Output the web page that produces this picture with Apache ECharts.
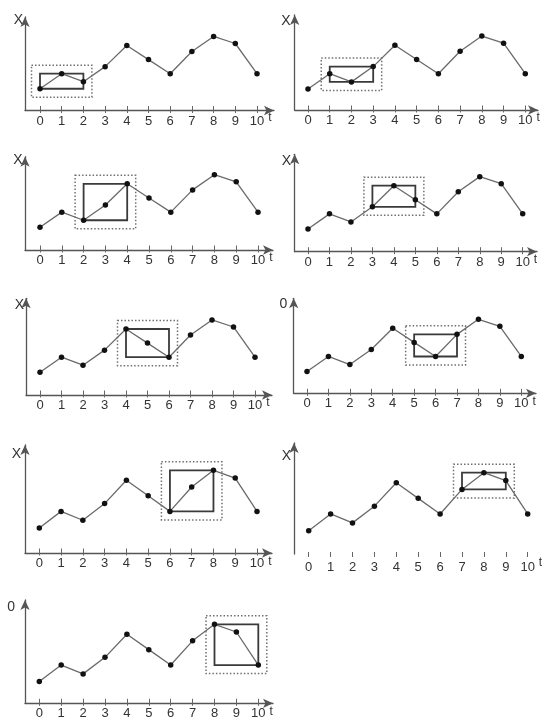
<!DOCTYPE html>
<html>
<head>
<meta charset="utf-8">
<script src="https://cdn.jsdelivr.net/npm/echarts@6/dist/echarts.min.js"></script>
<style>
html,body{margin:0;padding:0;background:#fff;}
#chart{width:544px;height:726px;}
</style>
</head>
<body>
<div id="chart"></div>
<script>
// ---- data ----
const tValues = [0, 1, 2, 3, 4, 5, 6, 7, 8, 9, 10];
const xValues = [2.2, 3.7, 2.9, 4.4, 6.5, 5.1, 3.7, 5.9, 7.4, 6.7, 3.7];
const tickLabels = ['0', '1', '2', '3', '4', '5', '6', '7', '8', '9', '10'];
const windowStarts = [0, 1, 2, 3, 4, 5, 6, 7, 8];
const windowSize = 3;
const yNames = ['X', 'X', 'X', 'X', 'X', '0', 'X', 'X', '0'];
const xName = 't';

// ---- layout (pixels) per panel ----
const layout = [
  {yx: 25,    t0: 40,    t10: 257,   tip: 279, ay: 110.5, top: 12,    s: 10.06, ymin: 0.04,  ndy: 8.5,  ngx: 2,   xl: true,  tdx: -4, tdy: 1},
  {yx: 294.7, t0: 308,   t10: 525.3, tip: 543, ay: 110,   top: 10,    s: 10.19, ymin: 0.14,  ndy: 11,   ngx: 4,   xl: true,  tdx: -4, tdy: 2},
  {yx: 25,    t0: 40,    t10: 258,   tip: 278, ay: 250,   top: 151.7, s: 10.12, ymin: -0.04, ndy: 8.3,  ngx: 2.5, xl: true,  tdx: -4, tdy: 2},
  {yx: 294.7, t0: 308,   t10: 522.7, tip: 542, ay: 251.7, top: 149.3, s: 10.06, ymin: -0.06, ndy: 12,   ngx: 3.5, xl: true,  tdx: -4, tdy: 2},
  {yx: 26,    t0: 40,    t10: 255,   tip: 277, ay: 395,   top: 293.3, s: 10.06, ymin: -0.06, ndy: 11.7, ngx: 2,   xl: true,  tdx: -4, tdy: 2},
  {yx: 293.7, t0: 307,   t10: 521.3, tip: 541, ay: 393.3, top: 293.3, s: 10.06, ymin: 0.04,  ndy: 11,   ngx: 6.5, xl: true,  tdx: -4, tdy: 2},
  {yx: 25,    t0: 39.3,  t10: 257,   tip: 277, ay: 553,   top: 440,   s: 11.1,  ymin: -0.05, ndy: 14,   ngx: 4,   xl: true,  tdx: -3, tdy: 3},
  {yx: 294,   t0: 308.7, t10: 527.7, tip: 542, ay: 554,   top: 438,   s: 11.15, ymin: 0.11,  ndy: 18,   ngx: 3,   xl: false, tdx: 2,  tdy: 3},
  {yx: 25,    t0: 39.3,  t10: 258.3, tip: 278, ay: 703.3, top: 595,   s: 11.02, ymin: 0.23,  ndy: 12,   ngx: 10,  xl: true,  tdx: -4, tdy: 2}
];

const AR = 5; // half arrow length
const axisColor = '#555';
const textColor = '#333';
const font = 'Liberation Sans, Arial, sans-serif';

const grid = [], xAxis = [], yAxis = [], series = [];

layout.forEach((L, i) => {
  const d = (L.t10 - L.t0) / 10;
  const endX = L.tip - AR;
  const gTop = L.top + AR;
  grid.push({left: L.yx, top: gTop, width: endX - L.yx, height: L.ay - gTop, containLabel: false});
  const xmin = -(L.t0 - L.yx) / d;
  const xmax = 10 + (endX - L.t10) / d;
  xAxis.push({
    gridIndex: i, type: 'value', min: xmin, max: xmax, position: 'bottom',
    name: xName, nameLocation: 'end', nameGap: L.tdx,
    nameTextStyle: {fontSize: 12, color: textColor, fontFamily: font, align: 'center', verticalAlign: 'top', lineHeight: 12, padding: [L.tdy, 0, 0, 0]},
    axisLine: {show: L.xl, onZero: false, symbol: ['none', 'arrow'], symbolSize: [7, 10], lineStyle: {color: axisColor, width: 1.3}},
    axisTick: {show: true, inside: true, length: L.xl ? 4.5 : 2, customValues: tValues, lineStyle: {color: '#666', width: 1}},
    axisLabel: {show: true, customValues: tValues, margin: L.xl ? 4 : 7, fontSize: 13, color: textColor, fontFamily: font,
      formatter: v => tickLabels[tValues.indexOf(Math.round(v))]},
    splitLine: {show: false}
  });
  xAxis.push({
    gridIndex: i, type: 'value', min: xmin, max: xmax, position: 'bottom', offset: 0,
    axisLine: {show: false, onZero: false},
    axisTick: {show: true, inside: false, length: L.xl ? 2.5 : 3, customValues: tValues, lineStyle: {color: '#666', width: 1}},
    axisLabel: {show: false},
    splitLine: {show: false}
  });
  const ymax = L.ymin + (L.ay - gTop) / L.s;
  yAxis.push({
    gridIndex: i, type: 'value', min: L.ymin, max: ymax,
    name: yNames[i], nameLocation: 'end', nameGap: AR - L.ndy,
    nameTextStyle: {fontSize: 14, color: textColor, fontFamily: font, align: 'right', verticalAlign: 'middle', padding: [0, L.ngx, 0, 0]},
    axisLine: {show: true, onZero: false, symbol: ['none', 'arrow'], symbolSize: [7, 10], lineStyle: {color: axisColor, width: 1.3}},
    axisTick: {show: false}, axisLabel: {show: false}, splitLine: {show: false}
  });

  const start = windowStarts[i];
  const win = xValues.slice(start, start + windowSize);
  series.push({
    type: 'custom', xAxisIndex: 2 * i, yAxisIndex: i, clip: false, z: 1,
    data: [[tValues[start], tValues[start + windowSize - 1], Math.min(...win), Math.max(...win)]],
    encode: {x: [0, 1], y: [2, 3]},
    renderItem: (params, api) => {
      const a = api.coord([api.value(0), api.value(3)]);
      const b = api.coord([api.value(1), api.value(2)]);
      const w = b[0] - a[0], h = b[1] - a[1];
      const pad = 8.5;
      return {
        type: 'group',
        children: [
          {type: 'rect', shape: {x: a[0] - pad, y: a[1] - pad, width: w + 2 * pad, height: h + 2 * pad},
           style: {fill: 'none', stroke: '#707070', lineWidth: 1.5, lineDash: [1.5, 2]}},
          {type: 'rect', shape: {x: a[0], y: a[1], width: w, height: h},
           style: {fill: 'none', stroke: '#3a3a3a', lineWidth: 1.8}}
        ]
      };
    }
  });
  series.push({
    type: 'line', xAxisIndex: 2 * i, yAxisIndex: i, z: 3,
    data: tValues.map((t, k) => [t, xValues[k]]),
    symbol: 'circle', symbolSize: 5.5, showSymbol: true,
    itemStyle: {color: '#111'},
    lineStyle: {color: '#6a6a6a', width: 1.3},
    animation: false, silent: true
  });
});

const chart = echarts.init(document.getElementById('chart'), null, {renderer: 'canvas'});
chart.setOption({
  animation: false,
  backgroundColor: '#fff',
  grid, xAxis, yAxis, series
});
</script>
</body>
</html>
